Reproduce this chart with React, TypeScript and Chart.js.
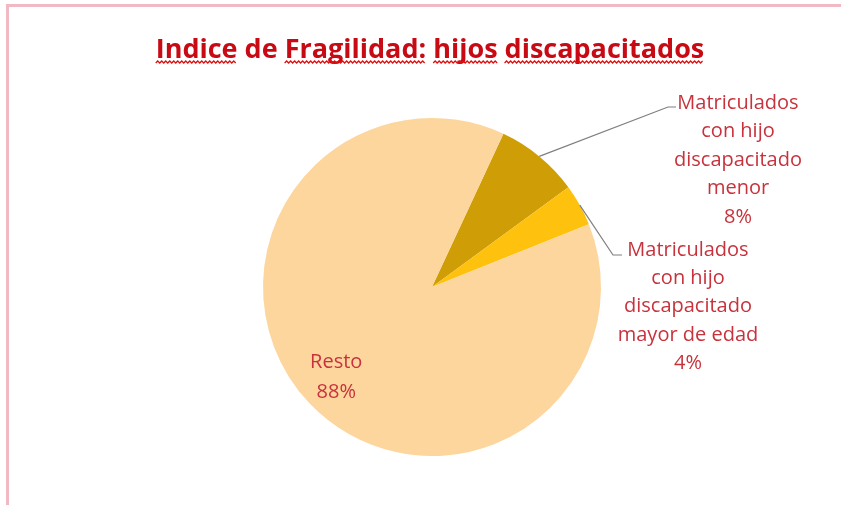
import { useEffect, useRef } from 'react';
import { Chart, registerables } from 'chart.js';

Chart.register(...registerables);

// ---- data ----
const titleText = 'Indice de Fragilidad: hijos discapacitados';
const titleWords = ['Indice', 'de', 'Fragilidad:', 'hijos', 'discapacitados'];
const squiggleWords = [true, false, true, true, true];
const categories = [
  'Matriculados con hijo discapacitado menor',
  'Matriculados con hijo discapacitado mayor de edad',
  'Resto',
];
const values = [8, 4, 88];
const labelLines = [
  ['Matriculados', 'con hijo', 'discapacitado', 'menor'],
  ['Matriculados', 'con hijo', 'discapacitado', 'mayor de edad'],
  ['Resto'],
];
const percentLabels = ['8%', '4%', '88%'];
const sliceColors = ['#cf9d05', '#fec10e', '#fdd69e'];

// ---- layout / style ----
const W = 841;
const H = 505;
const TITLE_COLOR = '#c80a14';
const LABEL_COLOR = '#c8323c';
const FONT = '"Open Sans", "Liberation Sans", sans-serif';
const outsideLabels: Record<number, { x: number; y: number; dy: number; bend: [number, number]; end: [number, number] }> = {
  0: { x: 738, y: 103, dy: 28.5, bend: [668, 107], end: [676, 107] },
  1: { x: 688, y: 250, dy: 28.3, bend: [613, 255], end: [622, 255] },
};

const labelPlugin = {
  id: 'customLabels',
  afterDatasetsDraw(chart: any) {
    const ctx: CanvasRenderingContext2D = chart.ctx;
    // title
    ctx.save();
    ctx.font = `bold 27px ${FONT}`;
    ctx.fillStyle = TITLE_COLOR;
    ctx.textBaseline = 'alphabetic';
    ctx.textAlign = 'left';
    const tw = ctx.measureText(titleText).width;
    const tx = 430 - tw / 2;
    const ty = 58;
    ctx.fillText(titleText, tx, ty);
    // spell-check squiggles
    let cursor = 0;
    ctx.strokeStyle = '#e01010';
    ctx.lineWidth = 1.3;
    titleWords.forEach((w, i) => {
      const idx = titleText.indexOf(w, cursor);
      const x0 = tx + ctx.measureText(titleText.slice(0, idx)).width;
      const x1 = x0 + ctx.measureText(w).width;
      cursor = idx + w.length;
      if (!squiggleWords[i]) return;
      ctx.beginPath();
      let up = true;
      ctx.moveTo(x0, ty + 5);
      for (let x = x0 + 2; x <= x1; x += 2) {
        ctx.lineTo(x, ty + (up ? 3 : 5));
        up = !up;
      }
      ctx.stroke();
    });
    ctx.restore();

    const meta = chart.getDatasetMeta(0);
    ctx.save();
    ctx.font = `20px ${FONT}`;
    ctx.fillStyle = LABEL_COLOR;
    ctx.textAlign = 'center';
    ctx.textBaseline = 'middle';
    meta.data.forEach((arc: any, i: number) => {
      const { x, y, startAngle, endAngle, outerRadius } = arc.getProps(
        ['x', 'y', 'startAngle', 'endAngle', 'outerRadius'],
        true
      );
      const mid = (startAngle + endAngle) / 2;
      const lines = [...labelLines[i], percentLabels[i]];
      const o = outsideLabels[i];
      if (o) {
        const sx = x + Math.cos(mid) * outerRadius;
        const sy = y + Math.sin(mid) * outerRadius;
        ctx.save();
        ctx.strokeStyle = '#7f7f7f';
        ctx.lineWidth = 1.2;
        ctx.beginPath();
        ctx.moveTo(sx, sy);
        ctx.lineTo(o.bend[0], o.bend[1]);
        ctx.lineTo(o.end[0], o.end[1]);
        ctx.stroke();
        ctx.restore();
        lines.forEach((t, k) => ctx.fillText(t, o.x, o.y + k * o.dy));
      } else {
        const r = outerRadius * 0.78;
        const cx = x + Math.cos(mid) * r;
        const cy = y + Math.sin(mid) * r;
        const dy = 30;
        const y0 = cy - ((lines.length - 1) * dy) / 2;
        lines.forEach((t, k) => ctx.fillText(t, cx, y0 + k * dy));
      }
    });
    ctx.restore();
  },
};

export default function App() {
  const ref = useRef<HTMLCanvasElement>(null);
  useEffect(() => {
    const chart = new Chart(ref.current as HTMLCanvasElement, {
      type: 'pie',
      data: {
        labels: categories,
        datasets: [{ data: values, backgroundColor: sliceColors, borderWidth: 0 }],
      },
      options: {
        responsive: false,
        animation: false,
        rotation: 25,
        layout: { padding: { top: 118, bottom: 49, left: 232, right: 209 } },
        plugins: {
          legend: { display: false },
          tooltip: { enabled: false },
          title: { display: false },
        },
      },
      plugins: [labelPlugin],
    } as any);
    return () => chart.destroy();
  }, []);
  return (
    <div style={{ position: 'fixed', left: 0, top: 0, width: W, height: H, background: '#fff', overflow: 'hidden' }}>
      <canvas ref={ref} width={W} height={H} style={{ display: 'block', width: W, height: H }} />
      <div
        style={{
          position: 'absolute',
          left: 6,
          top: 4,
          right: -10,
          bottom: -10,
          borderLeft: '3px solid #f1bac2',
          borderTop: '3px solid #f1bac2',
          pointerEvents: 'none',
        }}
      />
    </div>
  );
}
